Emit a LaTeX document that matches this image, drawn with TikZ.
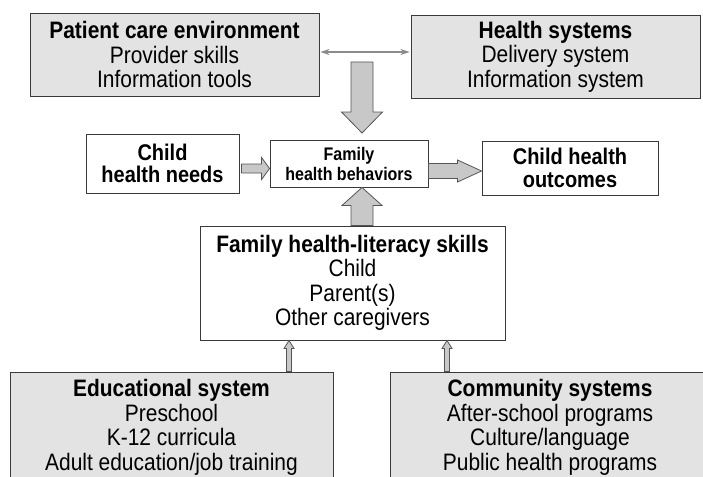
\documentclass[tikz,border=0pt]{standalone}
\usepackage{fontspec}
\setmainfont[FakeStretch=0.88]{Liberation Sans}
\usetikzlibrary{calc,arrows.meta}
\definecolor{boxgray}{HTML}{E3E3E3}
\definecolor{arrgray}{HTML}{C8C8C8}
\definecolor{edgecol}{HTML}{3A3A3A}
\definecolor{arredge}{HTML}{555555}
\definecolor{dblgray}{HTML}{8C8C8C}
\newcommand{\fatarrow}[5]{%
 \coordinate (fa-h) at ($(#2)!#5!(#1)$);
 \draw[fatarr] ($(#1)!#3!90:(#2)$) -- ($(fa-h)!#3!90:(#2)$) -- ($(fa-h)!#4!90:(#2)$) -- (#2) -- ($(fa-h)!#4!-90:(#2)$) -- ($(fa-h)!#3!-90:(#2)$) -- ($(#1)!#3!-90:(#2)$) -- cycle;}
\begin{document}
\begin{tikzpicture}[x=1pt,y=-1pt,
 box/.style={draw=edgecol, line width=0.9pt, inner sep=0pt, align=center},
 graybox/.style={box, fill=boxgray},
 whitebox/.style={box, fill=white},
 fatarr/.style={draw=arredge, fill=arrgray, line width=0.8pt, line join=miter},
 dblarr/.style={draw=dblgray, line width=2pt, {Stealth[length=9pt,width=6pt]}-{Stealth[length=9pt,width=6pt]}},
 bigtxt/.style={font=\fontsize{23.8}{24.5}\selectfont},
 midtxt/.style={font=\fontsize{22.7}{22.5}\selectfont},
 smalltxt/.style={font=\fontsize{18.2}{20}\selectfont}]
\useasboundingbox (0,0) rectangle (703,476);
\fill[white] (0,0) rectangle (703,476);
\clip (0,0) rectangle (703,476);

\node[graybox, bigtxt, minimum width=289pt, minimum height=83pt] (pce) at (174.5,54.5)
 {\textbf{Patient care environment}\\Provider skills\\Information tools};
\node[graybox, bigtxt, minimum width=289pt, minimum height=83pt] (hs) at (555.5,56.5)
 {\textbf{Health systems}\\Delivery system\\Information system};
\node[whitebox, midtxt, minimum width=153pt, minimum height=59pt] (needs) at (162.5,163.5)
 {\textbf{Child}\\\textbf{health needs}};
\node[whitebox, smalltxt, minimum width=158pt, minimum height=47pt] (fhb) at (349,163.5)
 {\textbf{Family}\\\textbf{health behaviors}};
\node[whitebox, midtxt, minimum width=176pt, minimum height=54pt] (out) at (570,168)
 {\textbf{Child health}\\\textbf{outcomes}};
\node[whitebox, bigtxt, minimum width=305pt, minimum height=114pt] (lit) at (352.5,283)
 {\textbf{Family health-literacy skills}\\Child\\Parent(s)\\Other caregivers};
\node[graybox, bigtxt, minimum width=323pt, minimum height=111pt] (edu) at (171.5,427.5)
 {\textbf{Educational system}\\Preschool\\K-12 curricula\\Adult education/job training};
\node[graybox, bigtxt, minimum width=320pt, minimum height=111pt] (com) at (550,427.5)
 {\textbf{Community systems}\\After-school programs\\Culture/language\\Public health programs};

% double arrow between top boxes
\draw[dblarr] ($(pce.east)+(1,-2.5)$) -- ($(hs.west)+(-1,-4.5)$);

% big down arrow
\coordinate (dA) at (362,62);
\coordinate (dB) at (362,133);
\fatarrow{dA}{dB}{11pt}{20.5pt}{21pt}
% up arrow from literacy skills
\coordinate (uA) at (dA |- lit.north);
\coordinate (uB) at (dA |- fhb.south);
\fatarrow{uA}{uB}{11pt}{20pt}{18pt}
% needs -> behaviors
\coordinate (lA) at ($(needs.east)+(2,5)$);
\coordinate (lB) at (fhb.west |- lA);
\fatarrow{lA}{lB}{4.5pt}{11pt}{8pt}
% behaviors -> outcomes
\coordinate (rA) at ($(fhb.east)+(0,7.5)$);
\coordinate (rB) at (out.west |- rA);
\fatarrow{rA}{rB}{7.5pt}{11pt}{24pt}
% small arrows from bottom boxes
\coordinate (e1) at (289,0);
\coordinate (eA) at (e1 |- edu.north);
\coordinate (eB) at (e1 |- lit.south);
\fatarrow{eA}{eB}{2.5pt}{5pt}{8pt}
\coordinate (c1) at (447,0);
\coordinate (cA) at (c1 |- com.north);
\coordinate (cB) at (c1 |- lit.south);
\fatarrow{cA}{cB}{2.5pt}{5pt}{8pt}
\end{tikzpicture}
\end{document}
